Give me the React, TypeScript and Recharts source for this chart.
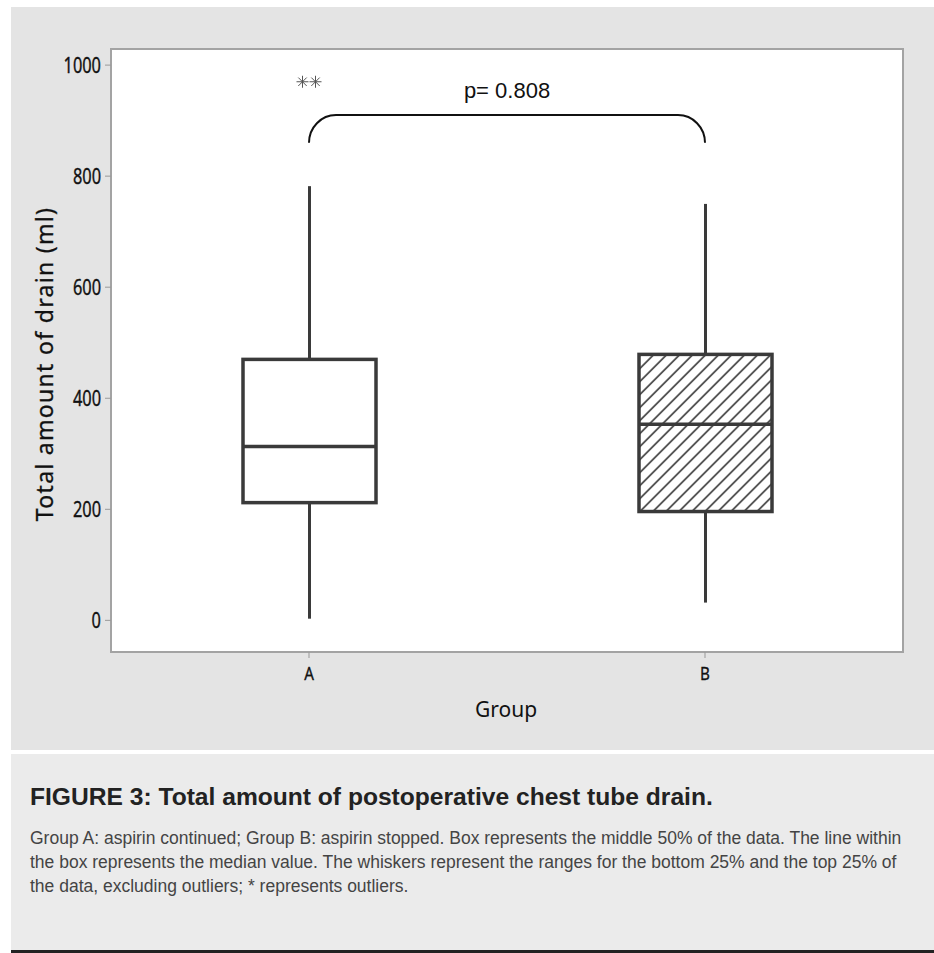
import { ComposedChart, Bar, Scatter, XAxis, YAxis, ReferenceLine } from 'recharts';

// box plot summary per group (ml)
const groups = ['A', 'B'];
const whiskerLow = [3, 32];
const quartile1 = [212, 196];
const medians = [313, 353];
const quartile3 = [470, 479];
const whiskerHigh = [782, 750];
const hatched = [false, true];

// outliers drawn as asterisks
const outlierGroups = ['A', 'A'];
const outlierValues = [970, 970];

const yTicks = [0, 200, 400, 600, 800, 1000];
const yDomain = [-57, 1029];

// significance bracket between the two groups
const bracketGroups = ['A', 'B'];
const bracketValues = [860, 910];
const pLabel = 'p= 0.808';

const boxData = groups.map((g, i) => ({
  group: g,
  range: [whiskerLow[i], whiskerHigh[i]],
  q1: quartile1[i],
  median: medians[i],
  q3: quartile3[i],
  hatched: hatched[i],
}));

const outlierData = outlierGroups.map((g, i) => ({ group: g, value: outlierValues[i], slot: i }));

const tickFont = "'Noto Sans', sans-serif";
const ink = '#3a3a3a';

function BoxShape(props: any) {
  const { x, y, width, height, payload } = props;
  const top = Math.min(y, y + height);
  const bottom = Math.max(y, y + height);
  const [lo, hi] = payload.range;
  const toY = (v: number) => bottom - ((v - lo) / (hi - lo)) * (bottom - top);
  const cx = x + width / 2;
  const yQ1 = toY(payload.q1);
  const yQ3 = toY(payload.q3);
  const yMed = toY(payload.median);
  return (
    <g>
      <defs>
        <pattern id="hatch" patternUnits="userSpaceOnUse" width={9.2} height={9.2} patternTransform="rotate(45)">
          <rect width={9.2} height={9.2} fill="#fff" />
          <line x1={4.6} y1={0} x2={4.6} y2={9.2} stroke="#222" strokeWidth={1.4} />
        </pattern>
      </defs>
      <line x1={cx} y1={top} x2={cx} y2={yQ3} stroke={ink} strokeWidth={3} />
      <line x1={cx} y1={yQ1} x2={cx} y2={bottom} stroke={ink} strokeWidth={3} />
      <rect x={x} y={yQ3} width={width} height={yQ1 - yQ3} fill={payload.hatched ? 'url(#hatch)' : '#fff'} stroke={ink} strokeWidth={3.5} />
      <line x1={x} y1={yMed} x2={x + width} y2={yMed} stroke={ink} strokeWidth={3.5} />
    </g>
  );
}

function Asterisk(props: any) {
  const { cx, cy, payload } = props;
  const px = cx + (payload.slot - 0.5) * 13;
  const r = 6;
  const d = r * 0.7;
  return (
    <g stroke="#555" strokeWidth={1}>
      <line x1={px - r} y1={cy} x2={px + r} y2={cy} />
      <line x1={px} y1={cy - r} x2={px} y2={cy + r} />
      <line x1={px - d} y1={cy - d} x2={px + d} y2={cy + d} />
      <line x1={px - d} y1={cy + d} x2={px + d} y2={cy - d} />
    </g>
  );
}

function Bracket(props: any) {
  const { x1, y1, x2, y2 } = props;
  const yb = Math.max(y1, y2);
  const yt = Math.min(y1, y2);
  const h = yb - yt;
  const r = 27;
  const path = `M${x1},${yb} A${r},${h} 0 0 1 ${x1 + r},${yt} L${x2 - r},${yt} A${r},${h} 0 0 1 ${x2},${yb}`;
  return (
    <g>
      <path d={path} fill="none" stroke="#111" strokeWidth={2} />
      <text x={(x1 + x2) / 2} y={yt - 17} textAnchor="middle" fontSize={22} fontFamily="'Liberation Sans', Arial, sans-serif" fill="#111">
        {pLabel}
      </text>
    </g>
  );
}

// condensed tick labels, like the Minitab export
function YTick(props: any) {
  const { x, y, payload } = props;
  return (
    <text transform={`translate(${x},${y}) scale(0.78,1)`} textAnchor="end" dy="0.36em" fontSize={21} fontFamily={tickFont} fill="#111" stroke="#111" strokeWidth={0.35}>
      {payload.value}
    </text>
  );
}

function XTick(props: any) {
  const { x, y, payload } = props;
  return (
    <text transform={`translate(${x},${y}) scale(0.8,1)`} textAnchor="middle" dy="0.71em" fontSize={19} fontFamily={tickFont} fill="#111" stroke="#111" strokeWidth={0.35}>
      {payload.value}
    </text>
  );
}

export default function App() {
  return (
    <div style={{ position: 'absolute', left: 0, top: 0, width: 934, height: 953, background: '#fff', fontFamily: "'Liberation Sans', Arial, sans-serif" }}>
      <div style={{ position: 'absolute', left: 11, top: 7, width: 923, height: 743, background: '#e4e4e4' }} />
      <div style={{ position: 'absolute', left: 110, top: 48, width: 794, height: 605, boxSizing: 'border-box', border: '2px solid #a3a3a3', background: '#fff' }} />
      <div style={{ position: 'absolute', left: 0, top: 0 }}>
        <ComposedChart width={934} height={760} data={boxData} margin={{ top: 49, right: 31, bottom: 68, left: 0 }}>
          <XAxis
            dataKey="group"
            type="category"
            allowDuplicatedCategory={false}
            axisLine={false}
            tickLine={{ stroke: '#999' }}
            tickSize={6}
            tickMargin={9}
            height={40}
            tick={<XTick />}
          />
          <YAxis
            type="number"
            domain={yDomain}
            ticks={yTicks}
            allowDataOverflow
            axisLine={false}
            tickLine={{ stroke: '#999' }}
            tickSize={6}
            tickMargin={4}
            width={111}
            tick={<YTick />}
          />
          <Bar dataKey="range" barSize={133} shape={<BoxShape />} isAnimationActive={false} />
          <Scatter data={outlierData} dataKey="value" shape={<Asterisk />} isAnimationActive={false} />
          <ReferenceLine
            segment={[
              { x: bracketGroups[0], y: bracketValues[0] },
              { x: bracketGroups[1], y: bracketValues[1] },
            ]}
            shape={<Bracket />}
          />
        </ComposedChart>
      </div>
      <svg width={934} height={760} style={{ position: 'absolute', left: 0, top: 0, pointerEvents: 'none' }}>
        <text transform="translate(53,364) rotate(-90)" textAnchor="middle" fontSize={23} letterSpacing={1.3} fontFamily="'Noto Sans', sans-serif" fill="#111" stroke="#111" strokeWidth={0.3}>
          Total amount of drain (ml)
        </text>
        <text x={506} y={717} textAnchor="middle" fontSize={21} fontFamily="'Noto Sans', sans-serif" fill="#111">
          Group
        </text>
      </svg>
      <div style={{ position: 'absolute', left: 11, top: 754, width: 923, height: 196, background: '#ebebeb' }}>
        <div style={{ position: 'absolute', left: 19, top: 31, fontSize: 24.6, fontWeight: 'bold', color: '#222', lineHeight: 1, whiteSpace: 'nowrap' }}>
          FIGURE 3: Total amount of postoperative chest tube drain.
        </div>
        <div style={{ position: 'absolute', left: 19, top: 72, width: 900, fontSize: 17.5, lineHeight: '24px', color: '#444', whiteSpace: 'nowrap' }}>
          Group A: aspirin continued; Group B: aspirin stopped. Box represents the middle 50% of the data. The line within
          <br />
          the box represents the median value. The whiskers represent the ranges for the bottom 25% and the top 25% of
          <br />
          the data, excluding outliers; * represents outliers.
        </div>
      </div>
      <div style={{ position: 'absolute', left: 11, top: 950, width: 923, height: 3, background: '#222' }} />
    </div>
  );
}
